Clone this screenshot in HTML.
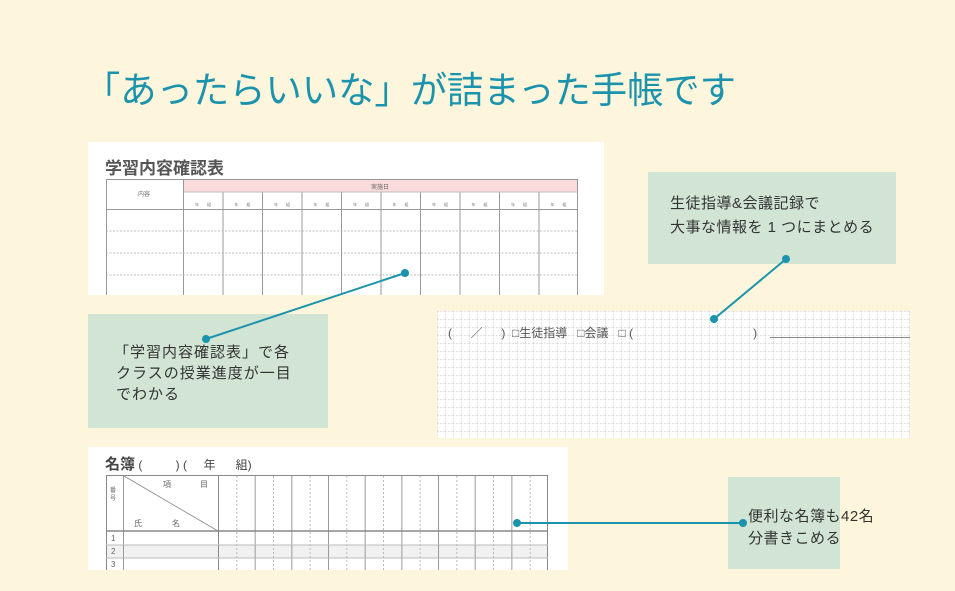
<!DOCTYPE html>
<html><head><meta charset="utf-8"><style>
html,body{margin:0;padding:0;background:#fdf6dc;}
svg{display:block;}
text{font-family:"Liberation Sans","Noto Sans CJK JP",sans-serif;}
</style></head><body>
<svg width="955" height="591" viewBox="0 0 955 591" xmlns="http://www.w3.org/2000/svg">
<defs>
<pattern id="c1" x="183" y="0" width="39.5" height="600" patternUnits="userSpaceOnUse">
<line x1="0.5" y1="0" x2="0.5" y2="600" stroke="#999" stroke-width="1"/>
</pattern>
<pattern id="c2" x="218" y="0" width="36.67" height="600" patternUnits="userSpaceOnUse">
<line x1="0.5" y1="0" x2="0.5" y2="600" stroke="#999" stroke-width="1"/>
<line x1="18.8" y1="0" x2="18.8" y2="600" stroke="#aaa" stroke-width="0.8" stroke-dasharray="2,2"/>
</pattern>
<pattern id="g" x="437" y="311" width="8" height="8" patternUnits="userSpaceOnUse">
<line x1="0" y1="0.5" x2="8" y2="0.5" stroke="#ddd" stroke-width="0.8" stroke-dasharray="2,1"/>
<line x1="0.5" y1="0" x2="0.5" y2="8" stroke="#ddd" stroke-width="0.8" stroke-dasharray="2,1"/>
</pattern>
</defs>

<text x="84" y="103" font-size="37" fill="#1b93ad" textLength="652" lengthAdjust="spacingAndGlyphs">「あったらいいな」が詰まった手帳です</text>

<!-- Panel 1 -->
<rect x="88" y="142" width="516" height="153" fill="#fff"/>
<text x="105" y="174" font-size="17" font-weight="bold" fill="#555">学習内容確認表</text>
<rect x="183" y="180" width="395" height="12" fill="#fadcdc"/>
<rect x="183" y="192" width="395" height="103" fill="url(#c1)"/>
<rect x="106.5" y="179.5" width="471" height="120" fill="none" stroke="#999"/>
<line x1="183" y1="192" x2="578" y2="192" stroke="#bbb"/>
<line x1="183.5" y1="180" x2="183.5" y2="295" stroke="#999"/>
<line x1="106" y1="209.5" x2="578" y2="209.5" stroke="#999"/>
<g stroke="#aaa" stroke-dasharray="2,1.5" stroke-width="0.8">
<line x1="106" y1="231" x2="578" y2="231"/><line x1="106" y1="253" x2="578" y2="253"/><line x1="106" y1="275" x2="578" y2="275"/>
</g>
<text x="380" y="189" font-size="6" fill="#666" text-anchor="middle">実施日</text>
<text x="144" y="196" font-size="6" fill="#666" text-anchor="middle">内容</text>
<g font-size="4" fill="#777">
<text x="195" y="206">年　　組</text><text x="234.5" y="206">年　　組</text><text x="274" y="206">年　　組</text><text x="313.5" y="206">年　　組</text><text x="353" y="206">年　　組</text><text x="392.5" y="206">年　　組</text><text x="432" y="206">年　　組</text><text x="471.5" y="206">年　　組</text><text x="511" y="206">年　　組</text><text x="550.5" y="206">年　　組</text>
</g>
<rect x="88" y="295" width="516" height="6" fill="#fdf6dc"/>

<!-- Grid panel -->
<rect x="437" y="311" width="473" height="127" fill="#fff"/>
<rect x="437" y="311" width="473" height="127" fill="url(#g)"/>
<text x="448" y="337" font-size="12" fill="#555" xml:space="preserve">(　  ／  　)  □生徒指導   □会議   □ (                                    )</text>
<line x1="770" y1="337.5" x2="910" y2="337.5" stroke="#888" stroke-width="1"/>

<!-- Panel 3 -->
<rect x="88" y="447" width="480" height="123" fill="#fff"/>
<text x="105" y="469" font-size="15" font-weight="bold" fill="#444" xml:space="preserve">名簿<tspan font-size="12" font-weight="normal"> (          ) (     年      組)</tspan></text>
<rect x="106" y="545" width="442" height="13" fill="#f1f1f1"/>
<rect x="218" y="476" width="330" height="94" fill="url(#c2)"/>
<rect x="106.5" y="475.5" width="441" height="100" fill="none" stroke="#888"/>
<line x1="123.5" y1="476" x2="123.5" y2="570" stroke="#999"/>
<line x1="218.5" y1="476" x2="218.5" y2="570" stroke="#888"/>
<line x1="124" y1="476" x2="218" y2="531" stroke="#888" stroke-width="0.8"/>
<line x1="106" y1="531" x2="548" y2="531" stroke="#888" stroke-width="1.5"/>
<line x1="106" y1="545" x2="548" y2="545" stroke="#bbb"/>
<line x1="106" y1="558" x2="548" y2="558" stroke="#bbb"/>
<g font-size="8" fill="#666">
<text x="163" y="487">項</text><text x="200" y="487">目</text>
<text x="134" y="526">氏</text><text x="172" y="526">名</text>
<text x="110" y="492" font-size="6">番</text><text x="110" y="500" font-size="6">号</text>
<text x="111" y="541">1</text><text x="111" y="554">2</text><text x="111" y="567">3</text>
</g>
<rect x="88" y="570" width="480" height="21" fill="#fdf6dc"/>

<!-- Callout boxes -->
<rect x="88" y="314" width="240" height="114" fill="#d2e5d5"/>
<g font-size="15" fill="#333" letter-spacing="1">
<text x="114" y="357">「学習内容確認表」で各</text>
<text x="116" y="378">クラスの授業進度が一目</text>
<text x="116" y="399">でわかる</text>
</g>
<rect x="648" y="172" width="248" height="92" fill="#d2e5d5"/>
<g font-size="15" fill="#333" letter-spacing="0.5">
<text x="670" y="208">生徒指導&amp;会議記録で</text>
<text x="670" y="232">大事な情報を 1 つにまとめる</text>
</g>
<rect x="728" y="477" width="112" height="92" fill="#d2e5d5"/>
<g font-size="15" fill="#333" letter-spacing="0.5">
<text x="748" y="521">便利な名簿も42名</text>
<text x="748" y="543">分書きこめる</text>
</g>

<!-- Connectors -->
<g stroke="#1a93ab" stroke-width="2" fill="#1a93ab">
<line x1="405" y1="273" x2="206" y2="339"/>
<circle cx="405" cy="273" r="4" stroke="none"/><circle cx="206" cy="339" r="4" stroke="none"/>
<line x1="786" y1="259" x2="714" y2="319"/>
<circle cx="786" cy="259" r="4" stroke="none"/><circle cx="714" cy="319" r="4" stroke="none"/>
<line x1="517" y1="523" x2="743" y2="523"/>
<circle cx="517" cy="523" r="4" stroke="none"/><circle cx="743" cy="523" r="4" stroke="none"/>
</g>
</svg>
</body></html>
